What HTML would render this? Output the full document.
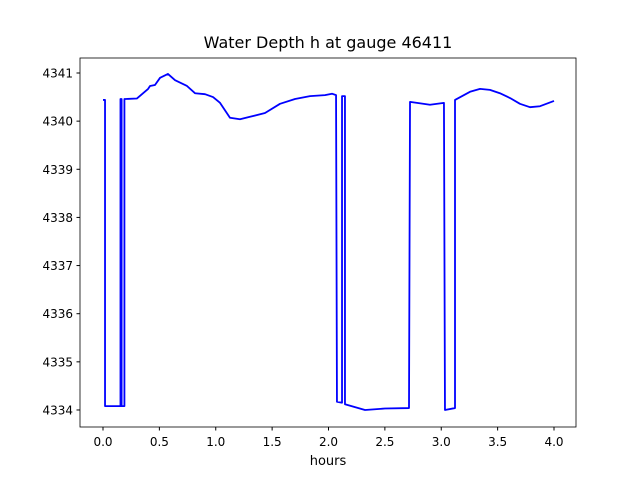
<!DOCTYPE html>
<html><head><meta charset="utf-8"><style>
body{margin:0;background:#fff}
svg{display:block;font-family:"DejaVu Sans","Liberation Sans",sans-serif}
</style></head><body>
<svg id="chart" width="640" height="480">
<rect width="640" height="480" fill="#fff"/>
<text x="328" y="48" font-size="16" text-anchor="middle">Water Depth h at gauge 46411</text>
<text x="328" y="465" font-size="13" text-anchor="middle">hours</text>
<g id="ticks"></g>
<polyline id="line" fill="none" stroke="#0000ff" stroke-width="1.8" stroke-linejoin="round"/>
<rect x="80" y="58" width="496" height="369" fill="none" stroke="#000" stroke-width="0.8"/>
</svg>
<script>
const hours = [0.0,0.018,0.018,0.155,0.155,0.165,0.165,0.19,0.19,0.2,0.30,0.40,0.417,0.461,0.506,0.576,0.639,0.745,0.816,0.905,0.976,1.038,1.126,1.215,1.304,1.437,1.57,1.703,1.836,1.969,2.031,2.067,2.075,2.12,2.12,2.146,2.146,2.324,2.50,2.714,2.723,2.90,3.024,3.033,3.122,3.122,3.255,3.344,3.432,3.52,3.61,3.698,3.787,3.876,4.0];
const depth = [4340.44,4340.44,4334.08,4334.08,4340.46,4340.46,4334.08,4334.08,4340.46,4340.46,4340.47,4340.67,4340.73,4340.75,4340.90,4340.98,4340.85,4340.73,4340.58,4340.56,4340.50,4340.38,4340.07,4340.04,4340.09,4340.17,4340.36,4340.46,4340.52,4340.54,4340.57,4340.54,4334.17,4334.15,4340.52,4340.52,4334.12,4334.0,4334.03,4334.04,4340.40,4340.34,4340.38,4334.0,4334.04,4340.44,4340.61,4340.67,4340.65,4340.58,4340.48,4340.36,4340.29,4340.31,4340.42];
const xTicks = [0.0,0.5,1.0,1.5,2.0,2.5,3.0,3.5,4.0];
const yTicks = [4334,4335,4336,4337,4338,4339,4340,4341];
const X = t => 103 + t*112.75;
const Y = v => 73 + (4341 - v)*48.14;
const ns = "http://www.w3.org/2000/svg";
const g = document.getElementById('ticks');
xTicks.forEach(t=>{
  const l=document.createElementNS(ns,'line');
  l.setAttribute('x1',X(t));l.setAttribute('x2',X(t));l.setAttribute('y1',427);l.setAttribute('y2',430.5);l.setAttribute('stroke','#000');
  
  
  g.appendChild(l);
  const s=document.createElementNS(ns,'text');
  s.setAttribute('x',X(t));s.setAttribute('y',446);s.setAttribute('font-size','12');s.setAttribute('text-anchor','middle');
  s.textContent=t.toFixed(1);
  
  
  g.appendChild(s);
});
yTicks.forEach(v=>{
  const l=document.createElementNS(ns,'line');
  l.setAttribute('x1',76.5);l.setAttribute('x2',80);l.setAttribute('y1',Y(v));l.setAttribute('y2',Y(v));l.setAttribute('stroke','#000');
  
  
  g.appendChild(l);
  const s=document.createElementNS(ns,'text');
  s.setAttribute('x',73);s.setAttribute('y',Y(v)+4.5);s.setAttribute('font-size','12');s.setAttribute('text-anchor','end');
  s.textContent=v;
  
  
  g.appendChild(s);
});
document.getElementById('line').setAttribute('points', hours.map((t,i)=>X(t)+','+Y(depth[i])).join(' '));
</script>
</body></html>
